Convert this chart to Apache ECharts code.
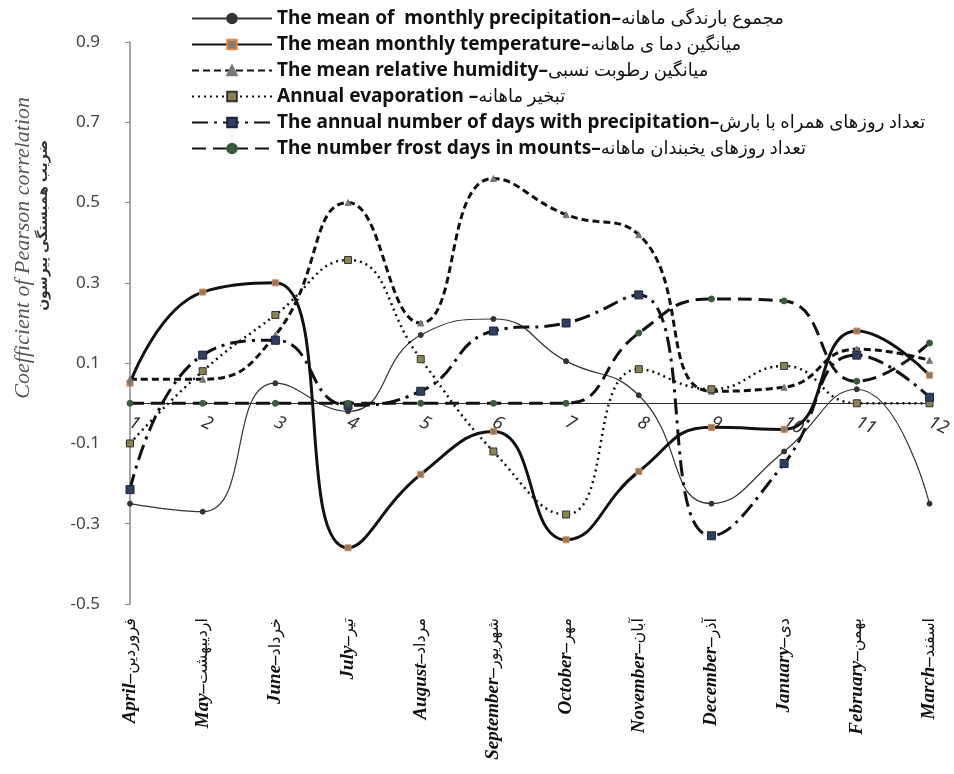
<!DOCTYPE html>
<html>
<head>
<meta charset="utf-8">
<script src="https://cdn.jsdelivr.net/npm/echarts@6/dist/echarts.min.js"></script>
<style>
html,body{margin:0;padding:0;background:#fff;}
#c{width:954px;height:774px;}
</style>
</head>
<body>
<div id="c"></div>
<script>
// ---- data ----
var monthNumbers = ['1','2','3','4','5','6','7','8','9','10','11','12'];
var monthNamesEn = ['April','May','June','July','August','September','October','November','December','January','February','March'];
var monthNamesFa = ['فروردین','اردیبهشت','خرداد','تیر','مرداد','شهریور','مهر','آبان','آذر','دی','بهمن','اسفند'];
var yTicks = [-0.5, -0.3, -0.1, 0.1, 0.3, 0.5, 0.7, 0.9];

var precipitation = [-0.25, -0.27, 0.05, -0.02, 0.17, 0.21, 0.105, 0.02, -0.25, -0.12, 0.035, -0.25];
var temperature   = [0.05, 0.277, 0.30, -0.36, -0.177, -0.07, -0.34, -0.17, -0.06, -0.065, 0.18, 0.07];
var humidity      = [0.06, 0.06, 0.17, 0.50, 0.20, 0.56, 0.47, 0.42, 0.03, 0.04, 0.135, 0.107];
var evaporation   = [-0.10, 0.08, 0.22, 0.357, 0.11, -0.12, -0.277, 0.085, 0.035, 0.093, 0.0, 0.0];
var precipDays    = [-0.215, 0.12, 0.157, -0.005, 0.03, 0.18, 0.20, 0.27, -0.33, -0.15, 0.12, 0.015];
var frostDays     = [0, 0, 0, 0, 0, 0, 0, 0.175, 0.26, 0.255, 0.055, 0.15];

var seriesNamesEn = [
  'The mean of  monthly precipitation–',
  'The mean monthly temperature–',
  'The mean relative humidity–',
  'Annual evaporation –',
  'The annual number of days with precipitation–',
  'The number frost days in mounts–'
];
var seriesNamesFa = [
  'مجموع بارندگی ماهانه',
  'میانگین دما ی ماهانه',
  'میانگین رطوبت نسبی',
  'تبخیر ماهانه',
  'تعداد روزهای همراه با بارش',
  'تعداد روزهای یخبندان ماهانه'
];
var yAxisTitleEn = 'Coefficient of Pearson correlation';
var yAxisTitleFa = 'ضریب همبستگی پیرسون';

// ---- chart ----
var chart = echarts.init(document.getElementById('c'));
var sans = '"Noto Sans", "DejaVu Sans", sans-serif';
var serif = '"Liberation Serif", "DejaVu Serif", serif';

function mk(idx, data, line, sym, symSize, symColor, symBorder) {
  return {
    name: seriesNamesEn[idx],
    type: 'line',
    xAxisIndex: 0,
    data: data,
    smooth: 0.5,
    symbol: sym,
    symbolSize: symSize,
    showSymbol: true,
    lineStyle: line,
    itemStyle: {color: symColor, borderColor: symBorder || symColor, borderWidth: 1},
    emphasis: {disabled: true},
    z: 3
  };
}

var series = [
  mk(0, precipitation, {color: '#333', width: 1.2, type: 'solid'}, 'circle', 5, '#333'),
  mk(1, temperature, {color: '#111', width: 3, type: 'solid'}, 'rect', 6, '#8a7a6a', '#e0864a'),
  mk(2, humidity, {color: '#111', width: 3, type: [7, 4]}, 'triangle', 6, '#777'),
  mk(3, evaporation, {color: '#111', width: 2.5, type: [2, 4]}, 'rect', 7, '#8a8450', '#333'),
  mk(4, precipDays, {color: '#111', width: 3, type: [16, 6, 3, 6]}, 'rect', 8, '#2e3f60', '#1a2540'),
  mk(5, frostDays, {color: '#111', width: 3, type: [14, 7]}, 'circle', 6, '#3c5a3c')
];

var gridTop = 42, gridBottom = 170, H = 774;
var plotH = H - gridTop - gridBottom;
var zeroOffset = -(plotH * (0.5 / 1.4)); // move numeric axis up to the zero line

var option = {
  backgroundColor: '#fff',
  animation: false,
  grid: {left: 130, right: 12, top: gridTop, bottom: gridBottom, containLabel: false},
  legend: {
    orient: 'vertical',
    left: 186,
    top: 4,
    itemWidth: 80,
    itemHeight: 12,
    itemGap: 7,
    selectedMode: false,
    data: seriesNamesEn,
    formatter: function (name) {
      var i = seriesNamesEn.indexOf(name);
      return '{e|' + name + '}{p|' + seriesNamesFa[i] + '}';
    },
    textStyle: {
      rich: {
        e: {fontFamily: sans, fontWeight: 'bold', fontSize: 19, color: '#111', lineHeight: 22},
        p: {fontFamily: sans, fontWeight: 'normal', fontSize: 18, color: '#111', lineHeight: 22}
      }
    }
  },
  xAxis: [
    {
      type: 'category',
      data: monthNumbers,
      boundaryGap: false,
      position: 'bottom',
      offset: zeroOffset,
      axisLine: {show: true, onZero: false, lineStyle: {color: '#333', width: 1}},
      axisTick: {show: false},
      axisLabel: {
        color: '#333', fontSize: 18, fontStyle: 'italic', fontFamily: sans,
        margin: 18, rotate: -25, interval: 0
      },
      splitLine: {show: false}
    },
    {
      type: 'category',
      data: monthNamesEn,
      position: 'bottom',
      boundaryGap: false,
      axisLine: {show: false, onZero: false},
      axisTick: {show: false},
      axisLabel: {
        rotate: 90, margin: 14, interval: 0,
        formatter: function (v, i) {
          return '{e|' + v + '–}{p|' + monthNamesFa[i] + '}';
        },
        rich: {
          e: {fontFamily: serif, fontWeight: 'bold', fontStyle: 'italic', fontSize: 19, color: '#111'},
          p: {fontFamily: sans, fontSize: 16, color: '#111'}
        }
      },
      splitLine: {show: false}
    }
  ],
  yAxis: {
    type: 'value',
    min: -0.5,
    max: 0.9,
    interval: 0.2,
    axisLine: {show: true, onZero: false, lineStyle: {color: '#888', width: 1.5}},
    axisTick: {show: true, inside: false, length: 5, lineStyle: {color: '#888'}},
    axisLabel: {
      color: '#444', fontSize: 17, fontFamily: sans, margin: 30,
      formatter: function (v) {
        for (var k = 0; k < yTicks.length; k++) {
          if (Math.abs(yTicks[k] - v) < 1e-6) return yTicks[k].toFixed(1);
        }
        return '';
      }
    },
    splitLine: {show: false}
  },
  graphic: [
    {
      type: 'text', left: 12, top: 97, rotation: Math.PI / 2,
      style: {text: yAxisTitleEn, font: 'italic 22px ' + serif, fill: '#555'}
    },
    {
      type: 'text', left: 36, top: 140, rotation: Math.PI / 2,
      style: {text: yAxisTitleFa, font: 'bold 14px ' + sans, fill: '#333'}
    }
  ],
  series: series
};
chart.setOption(option);
</script>
</body>
</html>
